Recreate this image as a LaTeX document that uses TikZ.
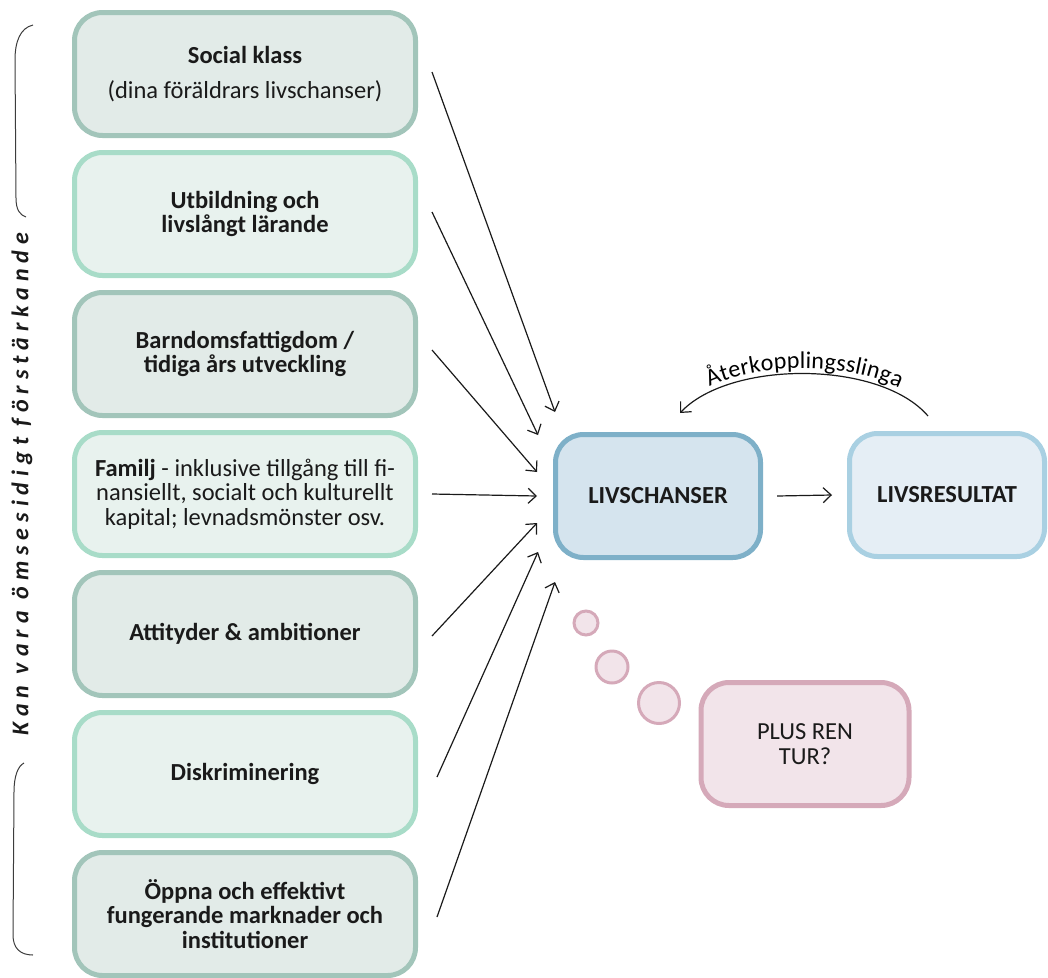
\documentclass[tikz,border=0pt]{standalone}
\usepackage{fontspec}
\setmainfont{Carlito}
\usetikzlibrary{arrows.meta,decorations.text,calc}

\definecolor{greenfillA}{HTML}{E2EBE8}
\definecolor{greenlineA}{HTML}{A2C5BA}
\definecolor{greenfillB}{HTML}{E8F2EE}
\definecolor{greenlineB}{HTML}{A8DCC8}
\definecolor{bluefill}{HTML}{D5E4EE}
\definecolor{blueline}{HTML}{7EB0C8}
\definecolor{lightbluefill}{HTML}{E5EEF5}
\definecolor{lightblueline}{HTML}{A9D0E2}
\definecolor{pinkfill}{HTML}{F2E4EA}
\definecolor{pinkline}{HTML}{D5A9B9}
\definecolor{inkcol}{HTML}{1A1A1A}

\begin{document}
\begin{tikzpicture}[x=1pt,y=-1pt,
  basebox/.style={draw, rounded corners=28pt, line width=5pt,
    minimum height=123pt, align=center, inner sep=0pt,
    text=inkcol, font=\fontsize{24.5}{24.5}\selectfont},
  factorA/.style={basebox, minimum width=341pt, fill=greenfillA, draw=greenlineA},
  factorB/.style={basebox, minimum width=341pt, fill=greenfillB, draw=greenlineB},
  chance/.style={basebox, minimum width=205pt, fill=bluefill, draw=blueline},
  outcome/.style={basebox, minimum width=195pt, fill=lightbluefill, draw=lightblueline},
  luck/.style={basebox, minimum width=208pt, fill=pinkfill, draw=pinkline},
  bubble/.style={circle, draw=pinkline, fill=pinkfill, line width=3pt, inner sep=0pt},
  arr/.style={-{Straight Barb[length=8pt,width=15pt]}, line width=1.2pt, draw=inkcol},
  bracecurve/.style={line width=1pt, draw=inkcol!85},
]
\useasboundingbox (0,0) rectangle (1048,977);

% factor boxes on the left
\node[factorA] (b1) at (245,74)  {\textbf{Social klass}\\[10pt](dina föräldrars livschanser)};
\node[factorB] (b2) at (245,214) {\textbf{Utbildning och}\\\textbf{livslångt lärande}};
\node[factorA] (b3) at (245,354) {\textbf{Barndomsfattigdom /}\\\textbf{tidiga års utveckling}};
\node[factorB] (b4) at (245,494) {\textbf{Familj} - inklusive tillgång till fi-\\nansiellt, socialt och kulturellt\\kapital; levnadsmönster osv.};
\node[factorA] (b5) at (245,634) {\textbf{Attityder \& ambitioner}};
\node[factorB] (b6) at (245,774) {\textbf{Diskriminering}};
\node[factorA] (b7) at (245,914) {\textbf{Öppna och effektivt}\\\textbf{fungerande marknader och}\\\textbf{institutioner}};

% central boxes
\node[chance]  (lc) at (658,496) {\textbf{LIVSCHANSER}};
\node[outcome] (lr) at (947,495) {\textbf{LIVSRESULTAT}};

% thought bubble
\node[bubble, minimum size=24pt] (c1) at (586,623) {};
\node[bubble, minimum size=32pt] (c2) at (612,667) {};
\node[bubble, minimum size=41pt] (c3) at (659,703) {};
\node[luck] (tur) at (805,744) {PLUS REN\\TUR?};

% arrow tips around the left side of LIVSCHANSER
\coordinate (t1) at ($(lc.west)+(2,-84)$);
\coordinate (t2) at ($(lc.west)+(-15,-61)$);
\coordinate (t3) at ($(lc.west)+(-16,-24)$);
\coordinate (t4) at ($(lc.west)+(-16,0)$);
\coordinate (t5) at ($(lc.west)+(-16,27)$);
\coordinate (t6) at ($(lc.west)+(-15,56)$);
\coordinate (t7) at ($(lc.west)+(2,86)$);

\draw[arr] ([xshift=14pt,yshift=2pt]b1.east) -- (t1);
\draw[arr] ([xshift=14pt,yshift=2pt]b2.east) -- (t2);
\draw[arr] ([xshift=14pt,yshift=4pt]b3.east) -- (t3);
\draw[arr] ([xshift=14pt]b4.east) -- (t4);
\draw[arr] ([xshift=14pt,yshift=-2pt]b5.east) -- (t5);
\draw[arr] ([xshift=19pt,yshift=-3pt]b6.east) -- (t6);
\draw[arr] ([xshift=19pt,yshift=-3pt]b7.east) -- (t7);

% chances lead to outcomes
\draw[arr] ([xshift=14pt]lc.east) -- ([xshift=-15pt]lr.west);

% feedback loop
\draw[arr] ([xshift=-19pt,yshift=15pt]lr.north) .. controls (880,360) and (730,360) .. ([xshift=22pt,yshift=19pt]lc.north);
\path[decorate, decoration={text along path,
    text={|\fontsize{24}{24}\selectfont|Återkopplingsslinga},
    text align=center, raise=5pt}]
  (680,413) .. controls (730,360) and (880,360) .. (928,415);

% brace and side label
\draw[bracecurve] (33,25) .. controls (20,28) and (15,42) .. (15,60) -- (16,198)
  .. controls (16,210) and (20,215) .. (26,217);
\draw[bracecurve] (24,763) .. controls (18,766) and (14,776) .. (14,792) -- (13,935)
  .. controls (13,948) and (20,955) .. (33,955);
\node[rotate=90, text=inkcol,
  font=\fontsize{24}{24}\selectfont\bfseries\itshape\addfontfeature{LetterSpace=25}]
  (side) at (22,484) {Kan vara ömsesidigt förstärkande};
\end{tikzpicture}
\end{document}
